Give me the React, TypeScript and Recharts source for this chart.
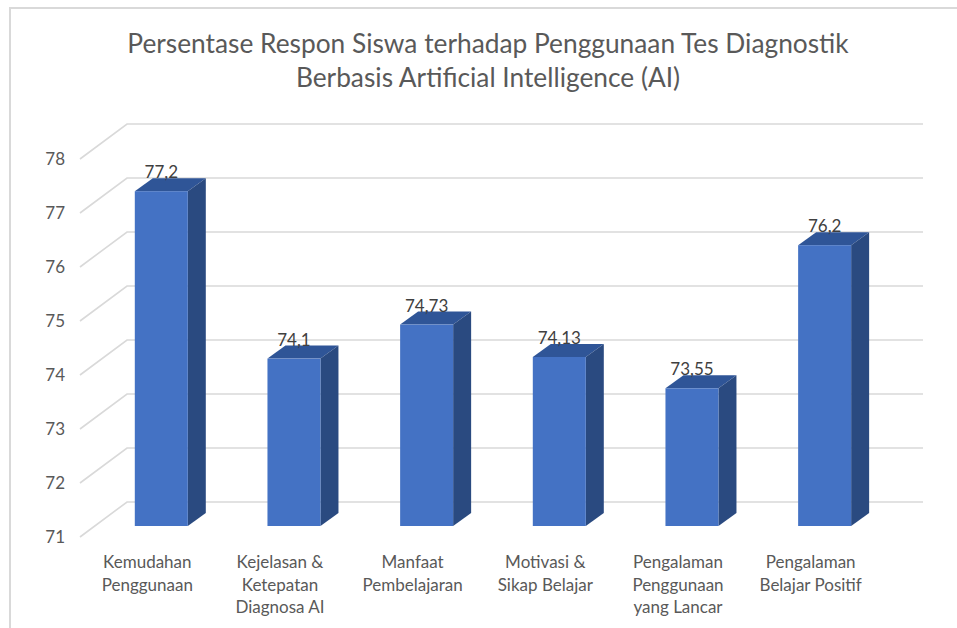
import { BarChart, Bar, XAxis, YAxis, CartesianGrid, LabelList } from 'recharts';

const categories = [
    'Kemudahan\nPenggunaan',
    'Kejelasan &\nKetepatan\nDiagnosa AI',
    'Manfaat\nPembelajaran',
    'Motivasi &\nSikap Belajar',
    'Pengalaman\nPenggunaan\nyang Lancar',
    'Pengalaman\nBelajar Positif',
];
const values = [77.2, 74.1, 74.73, 74.13, 73.55, 76.2];
const yTicks = [71, 72, 73, 74, 75, 76, 77, 78];
const titleLines = [
    'Persentase Respon Siswa terhadap Penggunaan Tes Diagnostik',
    'Berbasis Artificial Intelligence (AI)',
];

const data = categories.map((name, i) => ({ name, value: values[i] }));

// 3D look: wall depth and bar offsets (pixels)
const WALL_DX = 47;
const WALL_DY = 35;
const BAR_SHIFT_X = 15;
const BAR_SHIFT_Y = 11;
const BAR_DX = 18;
const BAR_DY = 13;

const FONT = 'Lato, "Open Sans", sans-serif';
const GRID = '#d9d9d9';

function GridLine(props: any) {
    const { x1, y1, x2 } = props;
    const pts = `${x1},${y1} ${x1 + WALL_DX},${y1 - WALL_DY} ${x2 + WALL_DX},${y1 - WALL_DY}`;
    return <polyline key={props.key ?? y1} points={pts} fill="none" stroke={GRID} strokeWidth={1.6} />;
}

function Bar3D(props: any) {
    const { x, y, width, height } = props;
    if (height == null || height <= 0) return null;
    const fx = x + BAR_SHIFT_X;
    const fy = y - BAR_SHIFT_Y;
    const r = fx + width;
    const b = fy + height;
    return (
        <g>
            <polygon
                points={`${fx},${fy} ${fx + BAR_DX},${fy - BAR_DY} ${r + BAR_DX},${fy - BAR_DY} ${r},${fy}`}
                fill="#2f5597"
            />
            <polygon
                points={`${r},${fy} ${r + BAR_DX},${fy - BAR_DY} ${r + BAR_DX},${b - BAR_DY} ${r},${b}`}
                fill="#2a4a80"
            />
            <rect x={fx} y={fy} width={width} height={height} fill="#4472c4" />
        </g>
    );
}

function ValueLabel(props: any) {
    const { x, y, width, value } = props;
    return (
        <text
            x={x + BAR_SHIFT_X + width / 2}
            y={y - BAR_SHIFT_Y - BAR_DY}
            textAnchor="middle"
            fontSize={17}
            fontFamily={FONT}
            fill="#404040"
        >
            {String(value).replace('.', ',')}
        </text>
    );
}

function CategoryTick(props: any) {
    const { x, y, payload } = props;
    const lines = String(payload.value).split('\n');
    return (
        <text x={x} y={y} textAnchor="middle" fontSize={17} fontFamily={FONT} fill="#595959">
            {lines.map((line, i) => (
                <tspan key={i} x={x + 1} dy={i === 0 ? 23 : 22.5}>
                    {line}
                </tspan>
            ))}
        </text>
    );
}

function ValueTick(props: any) {
    const { y, payload } = props;
    return (
        <text x={65} y={y} dy={6} textAnchor="end" fontSize={17} fontFamily={FONT} fill="#595959">
            {payload.value}
        </text>
    );
}

export default function App() {
    return (
        <div style={{ position: 'absolute', left: 0, top: 0, width: 957, height: 628, overflow: 'hidden', background: '#fff' }}>
            <div
                style={{
                    position: 'absolute',
                    left: 9,
                    top: 7,
                    width: 980,
                    height: 640,
                    border: '2px solid #d9d9d9',
                }}
            />
            <div
                style={{
                    position: 'absolute',
                    left: 0,
                    top: 26,
                    width: 976,
                    textAlign: 'center',
                    fontFamily: FONT,
                    fontSize: 26.3,
                    lineHeight: '34px',
                    color: '#595959',
                }}
            >
                {titleLines.map((t) => (
                    <div key={t}>{t}</div>
                ))}
            </div>
            <div style={{ position: 'absolute', left: 0, top: 0 }}>
                <BarChart
                    width={957}
                    height={628}
                    data={data}
                    margin={{ top: 159, right: 81, bottom: 0, left: 0 }}
                    barCategoryGap="30%"
                >
                    <CartesianGrid vertical={false} horizontal={GridLine} />
                    <XAxis
                        dataKey="name"
                        height={91}
                        axisLine={false}
                        tickLine={false}
                        interval={0}
                        tick={CategoryTick}
                    />
                    <YAxis
                        width={80}
                        domain={[71, 78]}
                        ticks={yTicks}
                        axisLine={false}
                        tickLine={false}
                        tick={ValueTick}
                    />
                    <Bar dataKey="value" shape={Bar3D} isAnimationActive={false}>
                        <LabelList dataKey="value" content={ValueLabel} />
                    </Bar>
                </BarChart>
            </div>
        </div>
    );
}
